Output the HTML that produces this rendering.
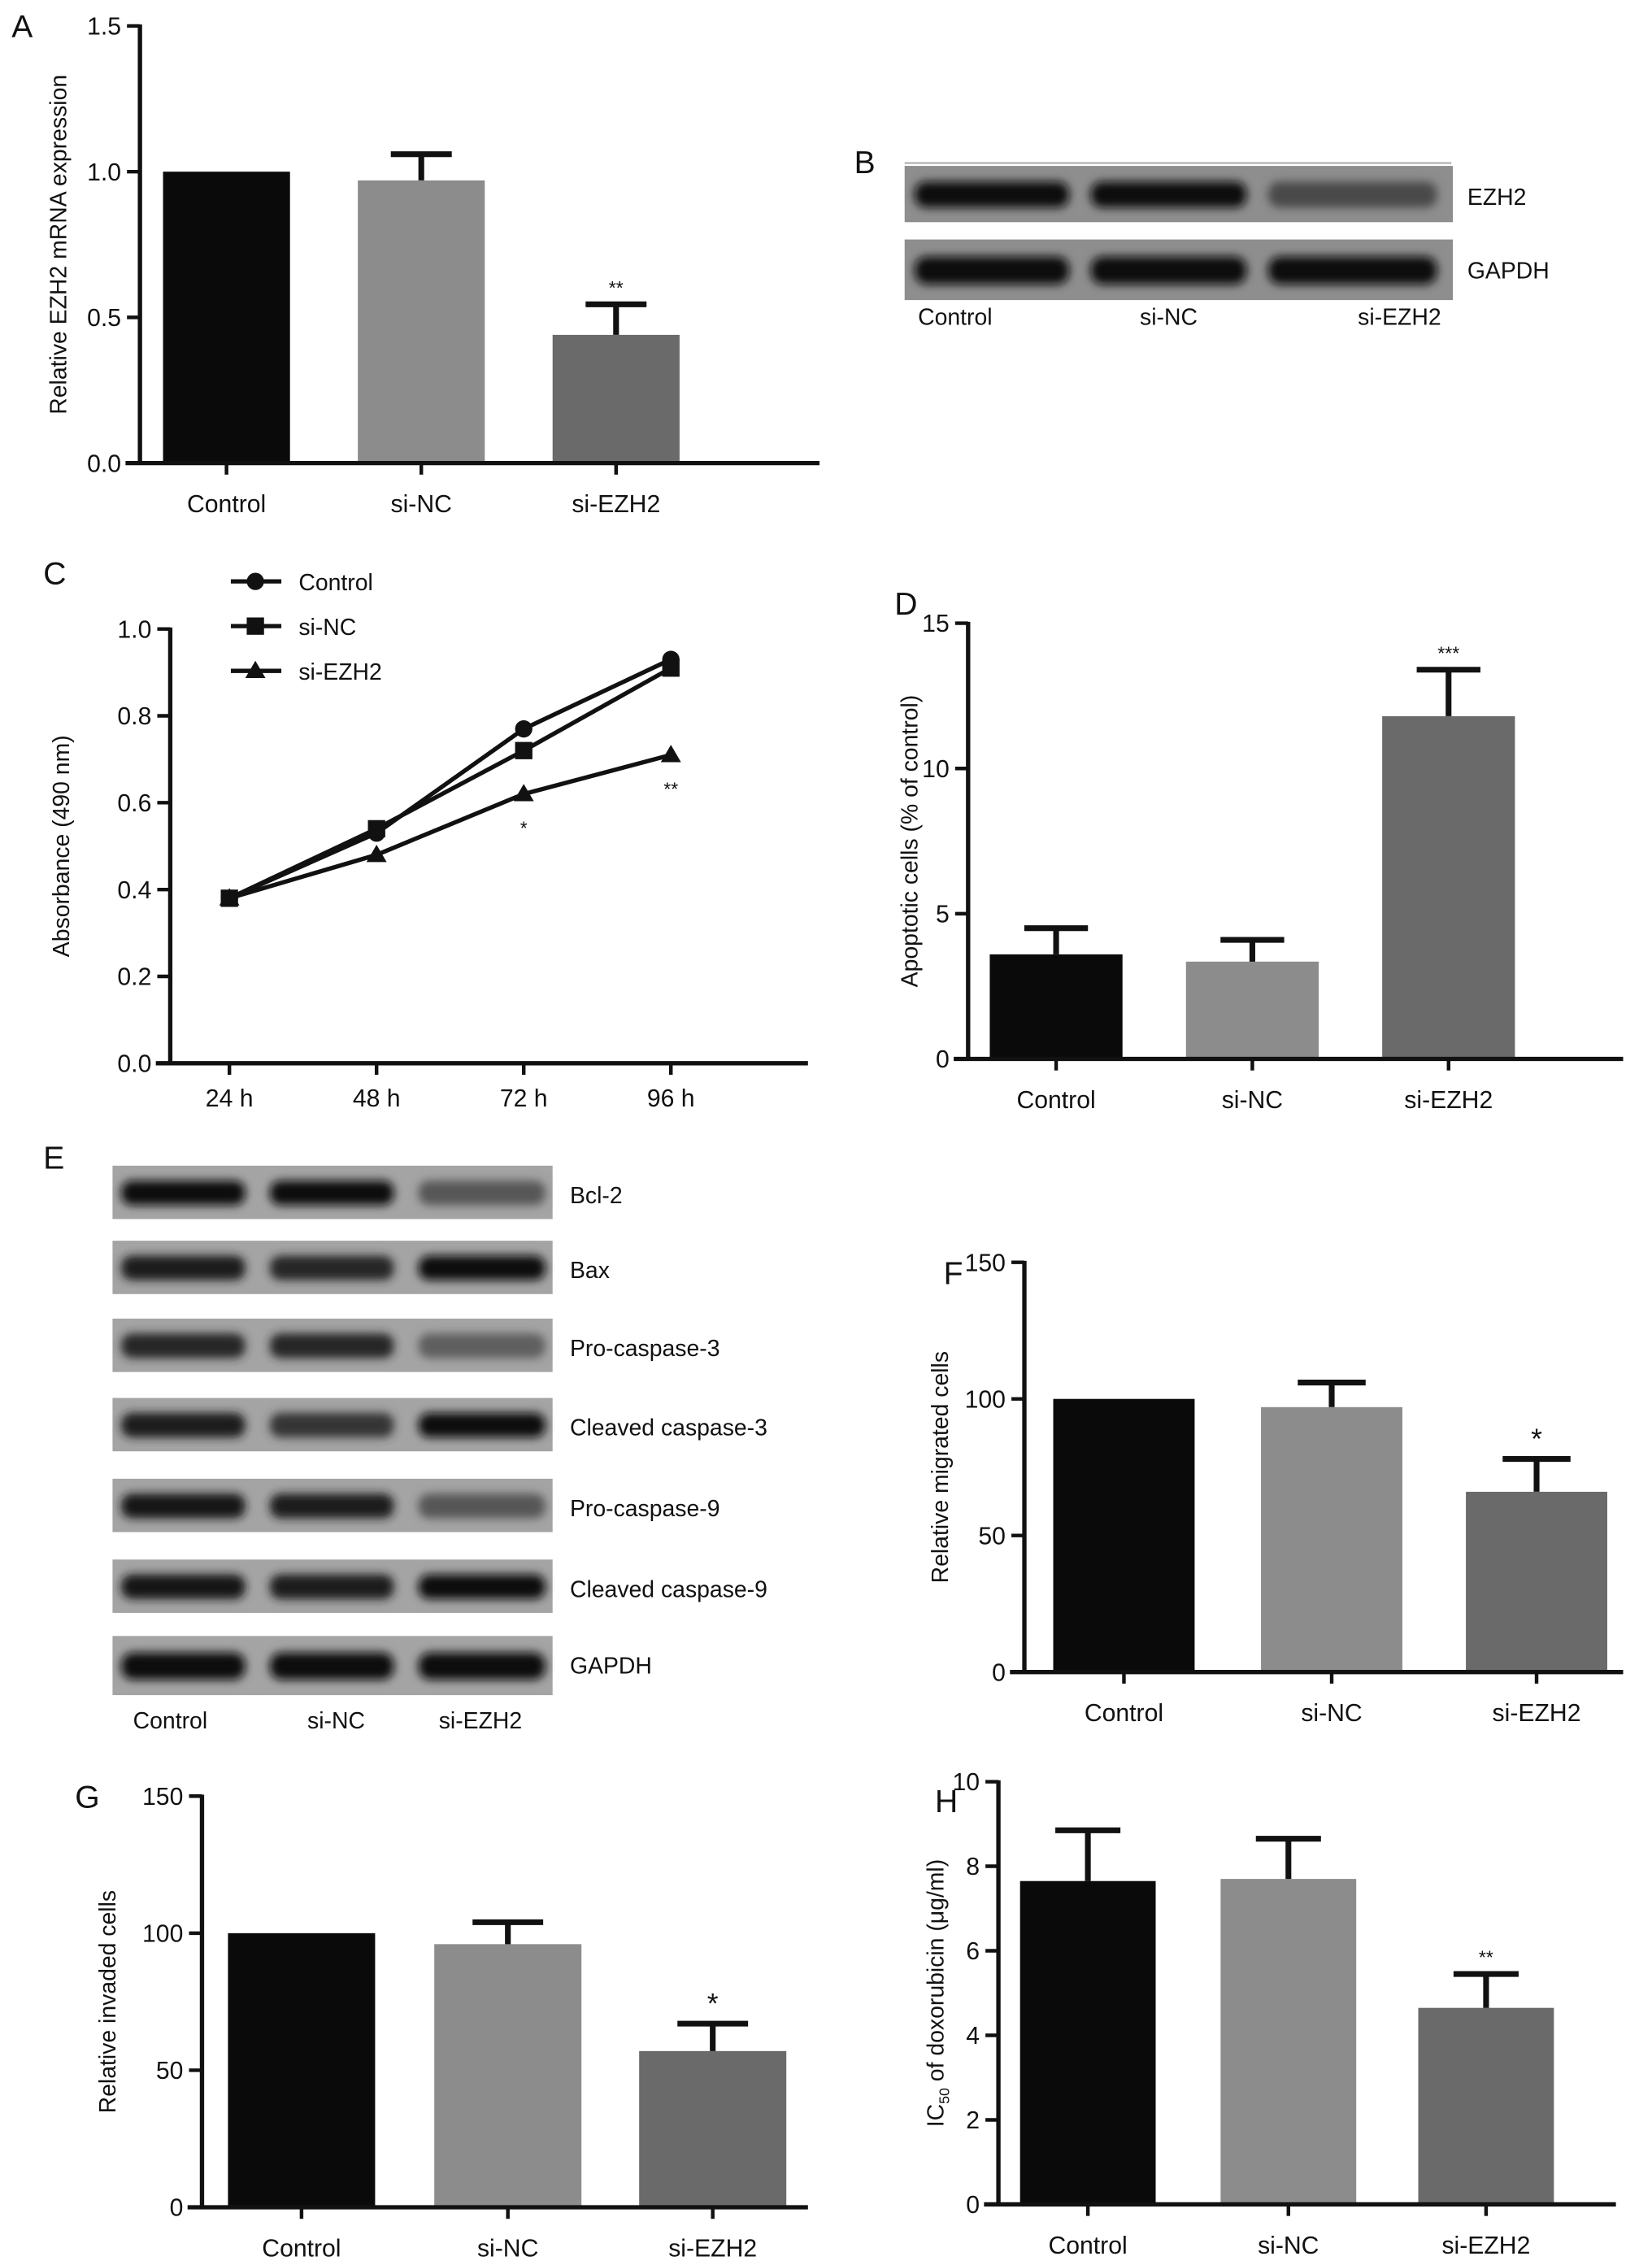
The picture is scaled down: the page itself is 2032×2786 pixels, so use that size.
<!DOCTYPE html>
<html><head><meta charset="utf-8"><style>
html,body{margin:0;padding:0;background:#fff}
svg{display:block}
text{font-family:"Liberation Sans",Arial,sans-serif;fill:#111}
</style></head>
<body>
<svg id="fig" width="2032" height="2786" viewBox="0 0 1145 1570" preserveAspectRatio="none" xmlns="http://www.w3.org/2000/svg">
<defs>
<filter id="blur" x="-20%" y="-50%" width="140%" height="200%"><feGaussianBlur stdDeviation="3.2"/></filter>
</defs>
</svg>
<script>
// ---------- data ----------
const groups = ["Control","si-NC","si-EZH2"];
const barColors = ["#0a0a0a","#8c8c8c","#6a6a6a"];
// A
const aValues = [1.0, 0.97, 0.44];
const aErr = [1.0, 1.06, 0.545];
const aSig = ["", "", "**"];
const aTicks = [0.0, 0.5, 1.0, 1.5];
// C
const cTimes = ["24 h","48 h","72 h","96 h"];
const cControl = [0.38, 0.53, 0.77, 0.93];
const cSiNC = [0.38, 0.54, 0.72, 0.91];
const cSiEZH2 = [0.38, 0.48, 0.62, 0.71];
const cSig = ["", "", "*", "**"];
const cTicks = [0.0, 0.2, 0.4, 0.6, 0.8, 1.0];
// D
const dValues = [3.6, 3.35, 11.8];
const dErr = [4.5, 4.1, 13.4];
const dSig = ["", "", "***"];
const dTicks = [0, 5, 10, 15];
// F
const fValues = [100, 97, 66];
const fErr = [100, 106, 78];
const fSig = ["", "", "*"];
const fTicks = [0, 50, 100, 150];
// G
const gValues = [100, 96, 57];
const gErr = [100, 104, 67];
const gSig = ["", "", "*"];
const gTicks = [0, 50, 100, 150];
// H
const hValues = [7.65, 7.7, 4.65];
const hErr = [8.85, 8.65, 5.45];
const hSig = ["", "", "**"];
const hTicks = [0, 2, 4, 6, 8, 10];
// Blots (band darkness 0..1)
const bProteins = ["EZH2","GAPDH"];
const bBands = [[0.95,0.95,0.55],[1,1,1]];
const eProteins = ["Bcl-2","Bax","Pro-caspase-3","Cleaved caspase-3","Pro-caspase-9","Cleaved caspase-9","GAPDH"];
const eBands = [[0.95,0.95,0.45],[0.85,0.8,1],[0.8,0.8,0.4],[0.85,0.7,1],[0.9,0.85,0.45],[0.9,0.85,1],[1,1,1]];

// ---------- helpers ----------
const NS="http://www.w3.org/2000/svg";
const svg=document.getElementById('fig');
function el(tag,attrs,parent){const e=document.createElementNS(NS,tag);for(const k in attrs)e.setAttribute(k,attrs[k]);(parent||svg).appendChild(e);return e;}
function txt(s,x,y,size,anchor,parent,extra){const t=el('text',Object.assign({x:x,y:y,'font-size':size,'text-anchor':anchor||'start'},extra||{}),parent);t.textContent=s;return t;}
function fmt(v,dec){return dec?v.toFixed(dec):String(v);}

function barChart(cfg){
  const g=el('g',{});
  
  
  const ymax=cfg.ticks[cfg.ticks.length-1];
  const Y=v=>cfg.y0-(v/ymax)*(cfg.y0-cfg.yTop);
  cfg.values.forEach((v,i)=>{
    const cx=cfg.centers[i];
    const r=el('rect',{x:cx-cfg.bw/2,y:Y(v),width:cfg.bw,height:cfg.y0-Y(v),fill:barColors[i]},g);
    
    
    if(cfg.err[i]>v){
      const e=el('path',{d:`M${cx},${Y(v)}V${Y(cfg.err[i])}M${cx-cfg.bw*0.24},${Y(cfg.err[i])}H${cx+cfg.bw*0.24}`,stroke:'#111','stroke-width':4,fill:'none'},g);
      
      
    }
    if(cfg.sig[i]){const s=txt(cfg.sig[i],cx,Y(cfg.err[i])-7,cfg.sigSize||13,'middle',g);
      
      }
    const lab=txt(groups[i],cx,cfg.y0+34,17,'middle',g);
    
    
    el('line',{x1:cx,x2:cx,y1:cfg.y0,y2:cfg.y0+8,stroke:'#111','stroke-width':2.5},g);
  });
  const ya=el('line',{x1:cfg.ax,x2:cfg.ax,y1:cfg.yTop-1,y2:cfg.y0+1,stroke:'#111','stroke-width':3},g);
  
  
  const xa=el('line',{x1:cfg.ax-10,x2:cfg.xEnd,y1:cfg.y0,y2:cfg.y0,stroke:'#111','stroke-width':3},g);
  
  
  cfg.ticks.forEach(t=>{
    el('line',{x1:cfg.ax-9,x2:cfg.ax,y1:Y(t),y2:Y(t),stroke:'#111','stroke-width':2.5},g);
    const tl=txt(fmt(t,cfg.dec),cfg.ax-13,Y(t)+6,17,'end',g);
    
    
  });
  const yt=txt(cfg.title,0,0,16,'middle',g,{transform:`translate(${cfg.titleX},${(cfg.yTop+cfg.y0)/2}) rotate(-90)`});
  
  
  if(cfg.titleSub){yt.textContent='';const a=el('tspan',{},yt);a.textContent='IC';const b=el('tspan',{'font-size':10,dy:4},yt);b.textContent='50';const c=el('tspan',{dy:-4},yt);c.textContent=' of doxorubicin (μg/ml)';}
  const pl=txt(cfg.letter,cfg.lx,cfg.ly,22,'start',g);
  
  
}

function blot(name,x,y,w,h,lanes,bands,bg,parent){
  const g=el('g',{},parent);
  
  
  el('rect',{x:x,y:y,width:w,height:h,fill:bg},g);
  bands.forEach((d,i)=>{
    const [l,r]=lanes[i];
    const c=Math.round(150-140*d);
    el('rect',{x:l+4,y:y+h*0.28,width:r-l-8,height:h*0.46,rx:h*0.2,fill:`rgb(${c},${c},${c})`,filter:'url(#blur)'},g);
  });
}

// ---------- Panel A ----------
barChart({name:'panel-a-mrna-chart',values:aValues,err:aErr,sig:aSig,ticks:aTicks,dec:1,ax:97,yTop:18,y0:321,xEnd:568,centers:[157,292,427],bw:88,title:'Relative EZH2 mRNA expression',titleX:46,letter:'A',lx:8,ly:26});

// ---------- Panel B ----------
(function(){
  const g=el('g',{});
  
  
  const pl=txt('B',592,120,22,'start',g);
  
  
  el('line',{x1:627,x2:1006,y1:113,y2:113,stroke:'#bbb','stroke-width':1.5},g);
  const lanes=[[630,745],[752,868],[875,1000]];
  const ys=[115,166];
  bProteins.forEach((p,i)=>{
    blot('blot-'+p.toLowerCase(),627,ys[i],380,39+(i?3:0),lanes,bBands[i],'#8e8e8e',g);
    const t=txt(p,1017,ys[i]+27,16,'start',g);
    
    
  });
  [[662,'Control'],[810,'si-NC'],[970,'si-EZH2']].forEach(([x,s])=>{
    const t=txt(s,x,225,16,'middle',g);
    
    
  });
})();

// ---------- Panel C ----------
(function(){
  const g=el('g',{});
  
  
  const ax=118,yTop=436,y0=737,xs=[159,261,363,465];
  const Y=v=>y0-(v/1.0)*(y0-yTop);
  const pl=txt('C',30,405,22,'start',g);
  
  
  el('line',{x1:ax,x2:ax,y1:yTop-1,y2:y0+1,stroke:'#111','stroke-width':3},g);
  el('line',{x1:ax-10,x2:560,y1:y0,y2:y0,stroke:'#111','stroke-width':3},g);
  cTicks.forEach(t=>{
    el('line',{x1:ax-9,x2:ax,y1:Y(t),y2:Y(t),stroke:'#111','stroke-width':2.5},g);
    const tl=txt(t.toFixed(1),ax-13,Y(t)+6,17,'end',g);
    
    
  });
  cTimes.forEach((s,i)=>{
    el('line',{x1:xs[i],x2:xs[i],y1:y0,y2:y0+8,stroke:'#111','stroke-width':2.5},g);
    const tl=txt(s,xs[i],y0+30,17,'middle',g);
    
    
  });
  const yt=txt('Absorbance (490 nm)',0,0,16,'middle',g,{transform:`translate(48,${(yTop+y0)/2}) rotate(-90)`});
  
  
  function marker(kind,x,y,parent){
    if(kind==='circle')return el('circle',{cx:x,cy:y,r:6,fill:'#111'},parent);
    if(kind==='square')return el('rect',{x:x-6,y:y-6,width:12,height:12,fill:'#111'},parent);
    return el('path',{d:`M${x},${y-7}L${x+7},${y+5}L${x-7},${y+5}Z`,fill:'#111'},parent);
  }
  const series=[['Control',cControl,'circle'],['si-NC',cSiNC,'square'],['si-EZH2',cSiEZH2,'triangle']];
  series.forEach(([nm,vals,mk],si)=>{
    const sg=el('g',{},g);
    
    
    el('polyline',{points:vals.map((v,i)=>xs[i]+','+Y(v)).join(' '),fill:'none',stroke:'#111','stroke-width':3},sg);
    vals.forEach((v,i)=>{const m=marker(mk,xs[i],Y(v),sg);
      
      });
    const lg=el('g',{},g);
    
    
    const ly=403+si*31;
    el('line',{x1:160,x2:195,y1:ly,y2:ly,stroke:'#111','stroke-width':3},lg);
    marker(mk,177,ly,lg);
    txt(nm,207,ly+6,16,'start',lg);
  });
  cSig.forEach((s,i)=>{ if(s){const t=txt(s,xs[i],Y(cSiEZH2[i])+28,13,'middle',g);
    
    }});
})();

// ---------- Panel D ----------
barChart({name:'panel-d-apoptosis-chart',values:dValues,err:dErr,sig:dSig,ticks:dTicks,dec:0,ax:671,yTop:432,y0:734,xEnd:1125,centers:[732,868,1004],bw:92,title:'Apoptotic cells (% of control)',titleX:636,letter:'D',lx:620,ly:426});

// ---------- Panel E ----------
(function(){
  const g=el('g',{});
  
  
  const pl=txt('E',30,810,22,'start',g);
  
  
  const tops=[808,860,914,969,1025,1081,1134];
  const lanes=[[80,174],[183,277],[286,382]];
  eProteins.forEach((p,i)=>{
    blot('blot-'+p.toLowerCase().replace(/ /g,'-'),78,tops[i],305,i===6?41:37,lanes,eBands[i],'#a4a4a4',g);
    const t=txt(p,395,tops[i]+26,16,'start',g);
    
    
  });
  [[118,'Control'],[233,'si-NC'],[333,'si-EZH2']].forEach(([x,s])=>{
    const t=txt(s,x,1198,16,'middle',g);
    
    
  });
})();

// ---------- Panel F ----------
barChart({name:'panel-f-migration-chart',values:fValues,err:fErr,sig:fSig,ticks:fTicks,dec:0,ax:710,yTop:875,y0:1159,xEnd:1125,centers:[779,923,1065],bw:98,title:'Relative migrated cells',titleX:657,letter:'F',lx:654,ly:890,sigSize:20});

// ---------- Panel G ----------
barChart({name:'panel-g-invasion-chart',values:gValues,err:gErr,sig:gSig,ticks:gTicks,dec:0,ax:140,yTop:1245,y0:1530,xEnd:560,centers:[209,352,494],bw:102,title:'Relative invaded cells',titleX:80,letter:'G',lx:52,ly:1253,sigSize:20});

// ---------- Panel H ----------
barChart({name:'panel-h-ic50-chart',values:hValues,err:hErr,sig:hSig,ticks:hTicks,dec:0,ax:692,yTop:1235,y0:1528,xEnd:1120,centers:[754,893,1030],bw:94,title:'IC50 of doxorubicin (μg/ml)',titleSub:true,titleX:654,letter:'H',lx:648,ly:1256});
</script>
</body></html>
